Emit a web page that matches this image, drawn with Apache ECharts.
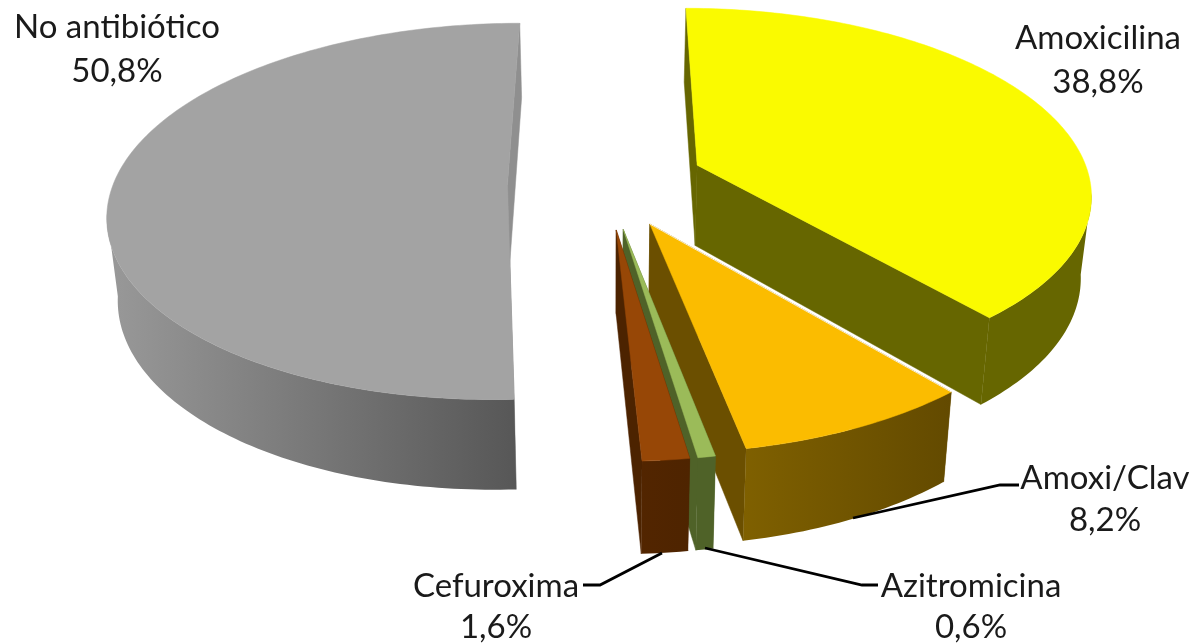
<!DOCTYPE html>
<html>
<head>
<meta charset="utf-8">
<style>html,body{margin:0;padding:0;background:#fff}#c{width:1192px;height:644px}</style>
<script src="https://cdn.jsdelivr.net/npm/echarts@6/dist/echarts.min.js"></script>
</head>
<body>
<div id="c"></div>
<script>
// --- data ---
const categories = ['Amoxicilina', 'Amoxi/Clav', 'Azitromicina', 'Cefuroxima', 'No antibiótico'];
const values = [38.8, 8.2, 0.6, 1.6, 50.8];

// --- styles ---
const topColors = ['#FAFA00', '#FBBC00', '#9BBB59', '#974706', '#A3A3A3'];
const radialColors = ['#666600', '#6B4F00', '#4F6228', '#4C2300', '#8F8F8F'];
const wallColors = [['#666600', '#666600'], ['#7F6000', '#634A00'], ['#4F6228', '#4F6228'], ['#522500', '#4E2400'], ['#999999', '#575757']];
const paintOrder = [1, 2, 3, 4, 0];

// --- projection of the exploded pie ---
const view = { cx: 606, cy: 183.5, rx: 394, ry: 184, k: 0.142, explode: 0.25, shrink: 0.978, depthA: 26.6, depthB: 54.5 };
const backNudge = [0.015, 0.012, 0.005, 0.005, 0];

// --- label layout: [x centre, y of name, y of value, leader points] ---
const labelLayout = [
  { x: 1098, y1: 38, y2: 82, leader: null },
  { x: 1105, y1: 478, y2: 520, leader: [[853, 518], [1000, 485], [1019, 485]] },
  { x: 971, y1: 586, y2: 627, leader: [[705, 548], [862, 585], [878, 585]] },
  { x: 496, y1: 586, y2: 627, leader: [[662, 553], [600, 585], [583, 585]] },
  { x: 117, y1: 27, y2: 71, leader: null }
];
const labelFont = '33px Lato, sans-serif';

const total = values.reduce((a, b) => a + b, 0);
function project(X, Y) {
  const s = 1 / (1 + view.k * Y);
  return { x: view.cx + view.rx * X * s, y: view.cy - view.ry * Y * s, s };
}
function lower(p) {
  return [view.cx + (p.x - view.cx) * view.shrink, p.y + view.depthA + view.depthB * p.s];
}
const up = p => [p.x, p.y];

function renderItem(params, api) {
  const i = params.dataIndex;
  let before = 0;
  for (let n = 0; n < i; n++) before += values[n];
  const a0 = before / total * 360;
  const a1 = (before + api.value(0)) / total * 360;
  const mid = (a0 + a1) / 2 * Math.PI / 180;
  const ox = view.explode * Math.sin(mid), oy = view.explode * Math.cos(mid) + backNudge[i];
  const rim = [], front = [];
  const steps = Math.max(2, Math.ceil(a1 - a0));
  for (let n = 0; n <= steps; n++) {
    const t = (a0 + (a1 - a0) * n / steps) * Math.PI / 180;
    const p = project(ox + Math.sin(t), oy + Math.cos(t));
    rim.push(p);
    if (Math.cos(t) < -view.k) front.push(p);
  }
  const apex = project(ox, oy);
  const base = paintOrder[i] * 10;
  const poly = (pts, fill, z, line) => ({
    type: 'polygon', z2: base + z, silent: true,
    shape: { points: pts },
    style: { fill, stroke: line ? fill : 'none', lineWidth: line || 0 }
  });
  const first = rim[0], last = rim[rim.length - 1];
  const wallFill = new echarts.graphic.LinearGradient(0, 0, 1, 0, [
    { offset: 0, color: wallColors[i][0] }, { offset: 1, color: wallColors[i][1] }
  ]);
  const children = [
    poly([up(apex), up(first), lower(first), lower(apex)], radialColors[i], 0, 0.5),
    poly([up(apex), up(last), lower(last), lower(apex)], radialColors[i], 1, 0.5),
    poly(front.map(up).concat(front.slice().reverse().map(lower)), wallFill, 2),
    poly([up(apex)].concat(rim.map(up)), topColors[i], 3, 0.5)
  ];
  if (i === 1) {
    children.push({
      type: 'line', z2: base + 4, silent: true,
      shape: { x1: apex.x, y1: apex.y, x2: first.x, y2: first.y },
      style: { stroke: '#ffffff', lineWidth: 0.8 }
    });
  }
  return { type: 'group', children };
}

function renderLabels(params, api) {
  const i = params.dataIndex;
  const l = labelLayout[i];
  const pct = api.value(0).toFixed(1).replace('.', ',') + '%';
  const text = (t, y) => ({
    type: 'text', z2: 100, silent: true,
    style: { text: t, x: l.x, y, align: 'center', verticalAlign: 'middle', font: labelFont, fill: '#1a1a1a' }
  });
  const children = [text(categories[i], l.y1), text(pct, l.y2)];
  if (l.leader) {
    children.push({
      type: 'polyline', z2: 99, silent: true,
      shape: { points: l.leader },
      style: { stroke: '#000000', lineWidth: 2.8, fill: null }
    });
  }
  return { type: 'group', children };
}

const chart = echarts.init(document.getElementById('c'), null, { renderer: 'canvas' });
chart.setOption({
  animation: false,
  backgroundColor: '#ffffff',
  series: [
    { type: 'custom', coordinateSystem: 'none', renderItem, data: values.map(v => [v]), z: 1, silent: true },
    { type: 'custom', coordinateSystem: 'none', renderItem: renderLabels, data: values.map(v => [v]), z: 2, silent: true }
  ]
});
</script>
</body>
</html>
